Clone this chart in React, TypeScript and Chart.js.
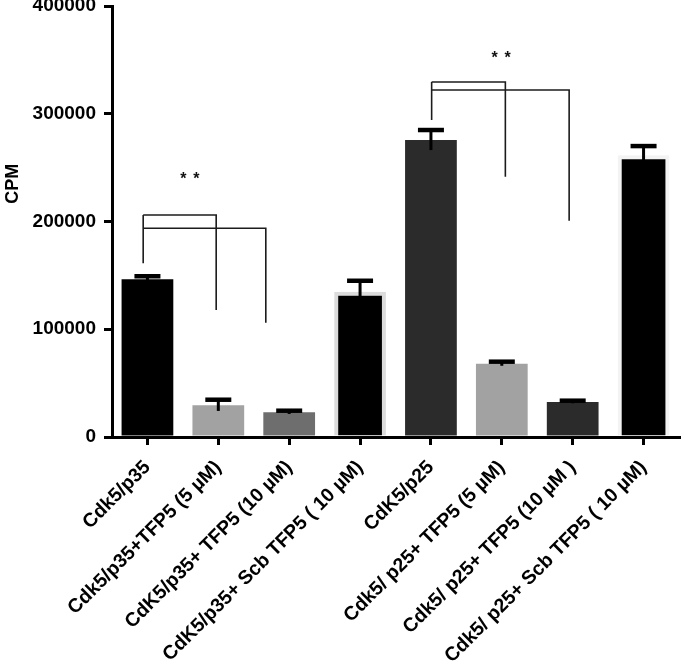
import React, { useEffect, useRef } from 'react';
import { Chart, registerables } from 'chart.js';

Chart.register(...registerables);

const categories = [
  'Cdk5/p35',
  'Cdk5/p35+TFP5 (5 µM)',
  'CdK5/p35+ TFP5 (10 µM)',
  'CdK5/p35+ Scb TFP5 ( 10 µM)',
  'CdK5/p25',
  'Cdk5/ p25+ TFP5 (5 µM)',
  'Cdk5/ p25+ TFP5 (10 µM )',
  'Cdk5/ p25+ Scb TFP5 ( 10 µM)',
];
const cpmMeans = [146400, 29400, 22900, 134900, 275600, 68000, 32500, 261500];
const cpmErrors = [2800, 5200, 1500, 10100, 9300, 1900, 1200, 8500];

const barColors = ['#000000', '#a2a2a2', '#6e6e6e', '#000000', '#2b2b2b', '#a2a2a2', '#2b2b2b', '#000000'];
const barBorderColors = ['#000000', '#a2a2a2', '#6e6e6e', '#dcdcdc', '#2b2b2b', '#a2a2a2', '#2b2b2b', '#f3f3f3'];
const barBorderWidths = [0, 0, 0, 4, 0, 0, 0, 4];

// significance brackets (category index positions, CPM levels)
const bracketStart = [-0.06, 4.01];
const bracketEnds = [[0.97, 1.67], [5.05, 5.95]];
const bracketLevels = [[206000, 193700], [329500, 322000]];
const bracketStartDrop = [161200, 294200];
const bracketEndDrops = [[117900, 106100], [241600, 200700]];
const starPositions = [0.6, 4.99];
const starLevels = [241600, 353600];
const starText = '* *';

const yTitle = 'CPM';
const yTitleLevel = 235000;

const FONT = '"Liberation Sans", Arial, Helvetica, sans-serif';

const errorBarPlugin = {
  id: 'errorBars',
  afterDatasetsDraw(chart: any) {
    const { ctx } = chart;
    const y = chart.scales.y;
    const meta = chart.getDatasetMeta(0);
    ctx.save();
    ctx.strokeStyle = '#000';
    meta.data.forEach((bar: any, i: number) => {
      const v = cpmMeans[i];
      const e = cpmErrors[i];
      const yTop = y.getPixelForValue(v + e);
      const yBot = y.getPixelForValue(v - e);
      ctx.lineWidth = 3;
      ctx.beginPath();
      ctx.moveTo(bar.x, yBot);
      ctx.lineTo(bar.x, yTop);
      ctx.stroke();
      ctx.lineWidth = 4.5;
      ctx.beginPath();
      ctx.moveTo(bar.x - 13, yTop);
      ctx.lineTo(bar.x + 13, yTop);
      ctx.stroke();
    });
    ctx.restore();
  },
};

const bracketPlugin = {
  id: 'brackets',
  afterDatasetsDraw(chart: any) {
    const { ctx } = chart;
    const x = chart.scales.x;
    const y = chart.scales.y;
    ctx.save();
    ctx.strokeStyle = '#1c1c1c';
    ctx.lineWidth = 1.6;
    bracketStart.forEach((s, g) => {
      const xs = x.getPixelForValue(s);
      const levels = bracketLevels[g];
      ctx.beginPath();
      ctx.moveTo(xs, y.getPixelForValue(bracketStartDrop[g]));
      ctx.lineTo(xs, y.getPixelForValue(levels[0]));
      ctx.stroke();
      bracketEnds[g].forEach((en, k) => {
        const xe = x.getPixelForValue(en);
        const yl = y.getPixelForValue(levels[k]);
        ctx.beginPath();
        ctx.moveTo(xs, yl);
        ctx.lineTo(xe, yl);
        ctx.lineTo(xe, y.getPixelForValue(bracketEndDrops[g][k]));
        ctx.stroke();
      });
      ctx.fillStyle = '#111';
      ctx.font = `bold 16px ${FONT}`;
      ctx.textAlign = 'center';
      ctx.textBaseline = 'middle';
      const sx = x.getPixelForValue(starPositions[g]);
      const sy = y.getPixelForValue(starLevels[g]);
      const parts = starText.split(' ');
      parts.forEach((p, k) => {
        ctx.fillText(p, sx + (k - (parts.length - 1) / 2) * 13, sy + 3);
      });
    });
    ctx.restore();
  },
};

const yTitlePlugin = {
  id: 'yTitle',
  afterDraw(chart: any) {
    const { ctx } = chart;
    const y = chart.scales.y;
    ctx.save();
    ctx.fillStyle = '#000';
    ctx.font = `bold 18px ${FONT}`;
    ctx.textAlign = 'center';
    ctx.textBaseline = 'middle';
    ctx.translate(13, y.getPixelForValue(yTitleLevel));
    ctx.rotate(-Math.PI / 2);
    ctx.fillText(yTitle, 0, 0);
    ctx.restore();
  },
};

export default function App() {
  const ref = useRef<HTMLCanvasElement | null>(null);
  useEffect(() => {
    if (!ref.current) return;
    const chart = new Chart(ref.current, {
      type: 'bar',
      data: {
        labels: categories,
        datasets: [
          {
            data: cpmMeans,
            backgroundColor: barColors,
            borderColor: barBorderColors,
            borderWidth: barBorderWidths,
            borderSkipped: 'start',
            barPercentage: 0.73,
            categoryPercentage: 1,
          },
        ],
      },
      options: {
        animation: false,
        responsive: false,
        devicePixelRatio: 1,
        layout: { padding: { left: 0, right: 4, top: 0, bottom: 0 } },
        plugins: { legend: { display: false }, tooltip: { enabled: false } },
        scales: {
          x: {
            grid: {
              offset: false,
              drawOnChartArea: false,
              drawTicks: true,
              tickLength: 8,
              color: '#000',
              lineWidth: 3,
            },
            border: { display: true, color: '#000', width: 3 },
            ticks: {
              minRotation: 45,
              maxRotation: 45,
              autoSkip: false,
              color: '#000',
              padding: 11,
              font: { family: FONT, weight: 'bold', size: 19.5 },
            },
            afterFit: (s: any) => {
              s.height = 226;
            },
          },
          y: {
            min: 0,
            max: 400000,
            ticks: {
              stepSize: 100000,
              color: '#000',
              padding: 8,
              font: { family: FONT, weight: 'bold', size: 19 },
              callback: (v: any) => String(v),
            },
            grid: {
              drawOnChartArea: false,
              drawTicks: true,
              tickLength: 8,
              color: '#000',
              lineWidth: 3,
            },
            border: { display: true, color: '#000', width: 3 },
            afterFit: (s: any) => {
              s.width = 112;
              s.paddingTop = 6;
              s.paddingBottom = 0;
            },
          },
        },
      } as any,
      plugins: [errorBarPlugin, bracketPlugin, yTitlePlugin],
    });
    return () => chart.destroy();
  }, []);
  return (
    <div style={{ position: 'fixed', left: 0, top: 0, width: 683, height: 663, background: '#fff' }}>
      <canvas ref={ref} width={683} height={663} style={{ display: 'block' }} />
    </div>
  );
}
